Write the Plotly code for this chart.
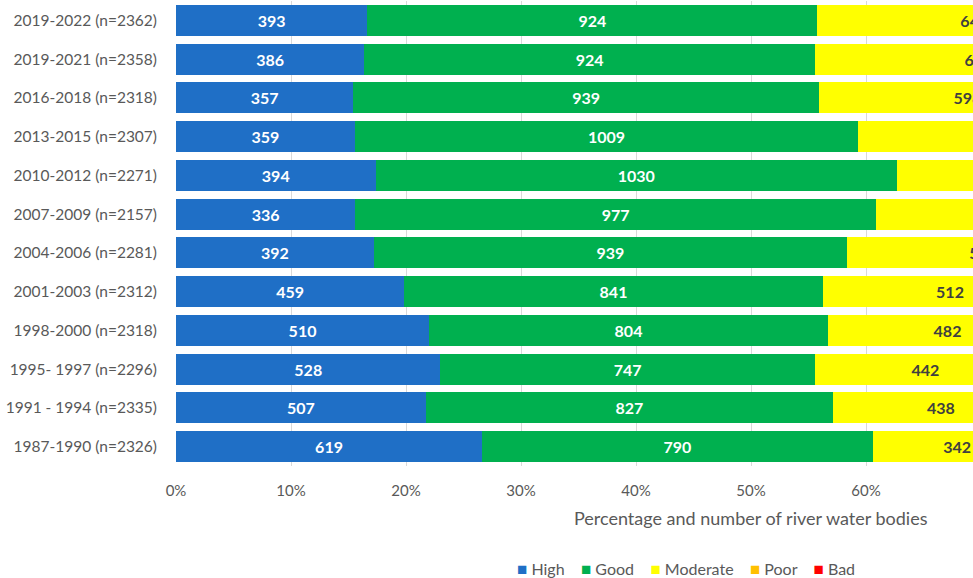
import plotly.graph_objects as go

periods = ["2019-2022 (n=2362)", "2019-2021 (n=2358)", "2016-2018 (n=2318)", "2013-2015 (n=2307)",
           "2010-2012 (n=2271)", "2007-2009 (n=2157)", "2004-2006 (n=2281)", "2001-2003 (n=2312)",
           "1998-2000 (n=2318)", "1995- 1997 (n=2296)", "1991 - 1994 (n=2335)", "1987-1990 (n=2326)"]
high = [393, 386, 357, 359, 394, 336, 392, 459, 510, 528, 507, 619]
good = [924, 924, 939, 1009, 1030, 977, 939, 841, 804, 747, 827, 790]
moderate = [645, 670, 598, 570, 480, 520, 540, 512, 482, 442, 438, 342]
poor = [390, 370, 414, 360, 358, 312, 398, 482, 500, 550, 530, 540]
bad = [10, 8, 10, 9, 9, 12, 12, 18, 22, 29, 33, 35]
x_ticks = [0, 0.1, 0.2, 0.3, 0.4, 0.5, 0.6, 0.7, 0.8, 0.9, 1.0]

series = [
    ("High", high, "#1F6FC6", "white"),
    ("Good", good, "#00B04F", "white"),
    ("Moderate", moderate, "#FFFF00", "#404040"),
    ("Poor", poor, "#FFC000", "#404040"),
    ("Bad", bad, "#FF0000", "white"),
]

fig = go.Figure()
for name, vals, color, tcolor in series:
    fig.add_trace(go.Bar(
        y=periods, x=vals, name=name, orientation="h",
        marker=dict(color=color, line=dict(width=0)),
        text=vals, texttemplate="%{text}", textposition="inside",
        insidetextanchor="middle", textangle=0,
        textfont=dict(family="Lato", size=16, color=tcolor, weight="bold"),
        hoverinfo="skip", showlegend=False,
    ))

legend_text = "&nbsp;&nbsp;&nbsp;&nbsp;".join(
    f"<span style='color:{c};font-size:17px'>■</span> {n}" for n, _, c, _ in series
)

fig.update_layout(
    barmode="stack", barnorm="fraction", bargap=0.2,
    width=973, height=578,
    margin=dict(l=176, r=0, t=1, b=112, autoexpand=False),
    paper_bgcolor="white", plot_bgcolor="white",
    font=dict(family="Lato", size=16, color="#595959"),
    uniformtext=dict(minsize=16, mode="show"),
    showlegend=False,
    xaxis=dict(range=[0, 0.693], tickvals=x_ticks, tickformat=".0%",
               showgrid=True, gridcolor="#D9D9D9", gridwidth=1,
               zeroline=False, showline=False, ticks="",
               tickfont=dict(size=15, color="#595959"), ticklabelstandoff=14),
    yaxis=dict(categoryorder="array", categoryarray=periods, autorange="reversed",
               showgrid=False, showline=False, ticks="",
               tickfont=dict(size=15.5, color="#595959"), ticklabelstandoff=18),
    annotations=[
        dict(text="Percentage and number of river water bodies", xref="x", yref="paper",
             x=0.5, y=-0.112, xanchor="center", yanchor="middle", showarrow=False,
             font=dict(size=18, color="#595959")),
        dict(text=legend_text, xref="paper", yref="paper",
             x=0.64, y=-0.2215, xanchor="center", yanchor="middle", showarrow=False,
             font=dict(size=16, color="#595959")),
    ],
)

fig.write_html("out.html")
